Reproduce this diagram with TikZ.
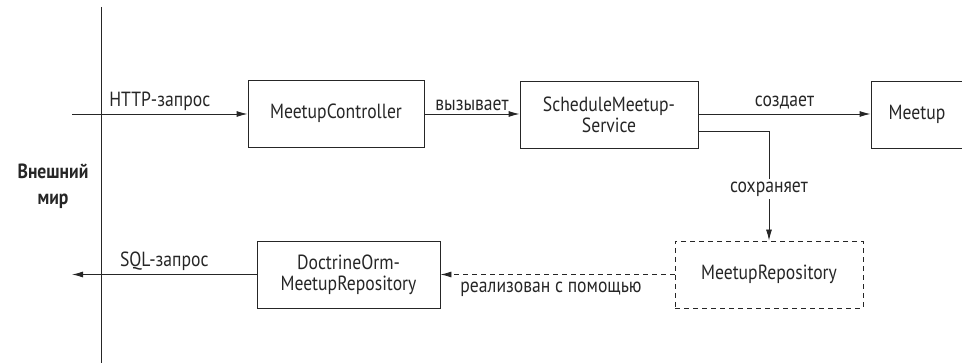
\documentclass[tikz,border=0pt]{standalone}
\usepackage{fontspec}
\setmainfont{PT Sans}[FakeStretch=0.86]
\usetikzlibrary{arrows.meta}
\begin{document}
\begin{tikzpicture}[x=1pt,y=-1pt,
  line width=0.9pt, draw=black!85,
  every node/.style={font=\fontsize{20.5}{21}\selectfont, text=black!85},
  box/.style={draw, line width=0.9pt, inner sep=0pt, align=center, minimum height=67pt},
  dbox/.style={box, dash pattern=on 5pt off 4pt},
  arr/.style={-{Latex[length=11pt,width=6pt]}},
  lbl/.style={inner sep=1pt}]
\useasboundingbox (0,0) rectangle (962,363);
\clip (0,0) rectangle (962,363);
% boundary
\coordinate (vtop) at (101,7);
\coordinate (vbot) at (101,365);
\draw (vtop) -- (vbot);
\node[font=\fontsize{20.5}{22}\selectfont\bfseries, align=center] (world) at (53,186) {Внешний\\[4pt]мир};
% boxes
\node[box, minimum width=176pt] (mc) at (336,113.5) {MeetupController};
\node[box, minimum width=178pt] (sms) at (609,114.5) {ScheduleMeetup-\\Service};
\node[box, minimum width=100pt] (meetup) at (921,114.5) {};
\node at (917,114.5) {Meetup};
\node[dbox, minimum width=188pt] (repo) at (769,274.5) {MeetupRepository};
\node[box, minimum width=183pt] (doc) at (348.5,274.5) {DoctrineOrm-\\MeetupRepository};
% connectors
\coordinate (in) at (72,114);
\draw[arr] (in) -- (mc.west |- in) node[midway, above, lbl, yshift=2pt] {HTTP-запрос};
\draw[arr] (mc.east |- 0,114) -- (sms.west |- 0,114) node[midway, above, lbl, yshift=2pt] {вызывает};
\draw[arr] (sms.east |- 0,114) -- (meetup.west |- 0,114) node[midway, above, lbl, yshift=3pt] {создает};
\coordinate (bend) at (769,131);
\draw[arr] (sms.east |- bend) -- (bend) -- (repo.north);
\node[fill=white, lbl, inner ysep=3pt] (save) at (769,189) {сохраняет};
\draw[arr, dash pattern=on 5pt off 4pt] (repo.west) -- (doc.east);
\node[lbl] (impl) at (551,289) {реализован с помощью};
\coordinate (out) at (72,274.5);
\draw[arr] (doc.west) -- (out) node[midway, above, lbl, yshift=2pt] {SQL-запрос};
\end{tikzpicture}
\end{document}
